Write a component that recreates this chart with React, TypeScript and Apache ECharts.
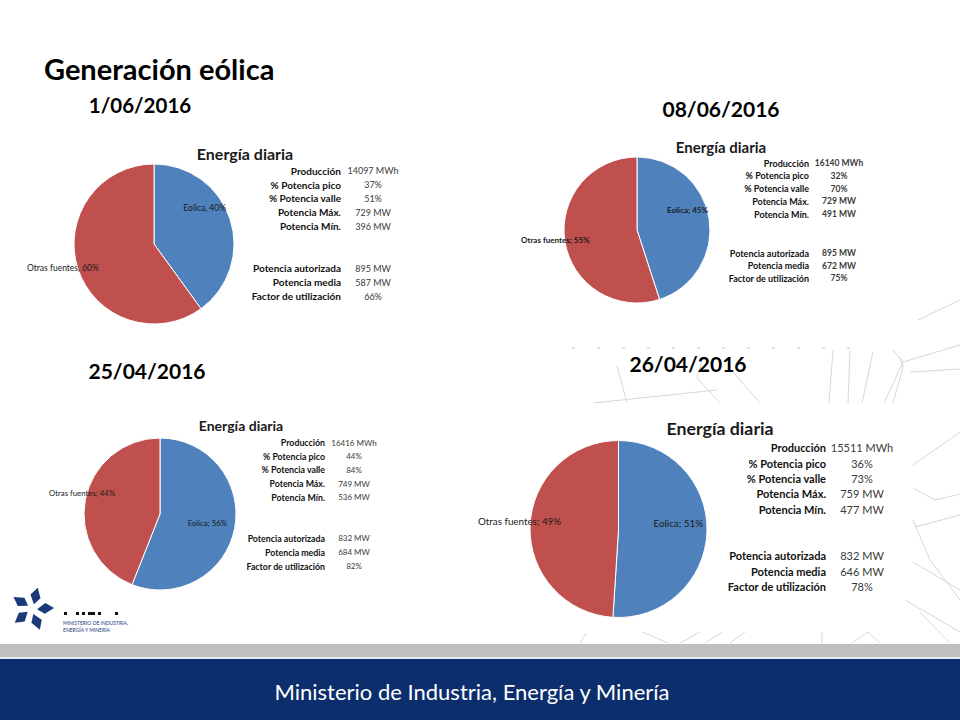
import React, { useEffect, useRef } from "react";
import * as echarts from "echarts";

// ---------- data ----------
const mainTitle = "Generación eólica";
const panelDates = ["1/06/2016", "08/06/2016", "25/04/2016", "26/04/2016"];
const sliceNames = ["Eolica", "Otras fuentes"];
const eolicaShare = [40, 45, 56, 51];
const otrasShare = [60, 55, 44, 49];
const labelSeparators = [", ", "; ", "; ", "; "];
const chartTitle = "Energía diaria";
const rowLabels = [
  "Producción",
  "% Potencia pico",
  "% Potencia valle",
  "Potencia Máx.",
  "Potencia Mín.",
  "Potencia autorizada",
  "Potencia media",
  "Factor de utilización",
];
const produccionMWh = [14097, 16140, 16416, 15511];
const potenciaPicoPct = [37, 32, 44, 36];
const potenciaVallePct = [51, 70, 84, 73];
const potenciaMaxMW = [729, 729, 749, 759];
const potenciaMinMW = [396, 491, 536, 477];
const potenciaAutorizadaMW = [895, 895, 832, 832];
const potenciaMediaMW = [587, 672, 684, 646];
const factorUtilizacionPct = [66, 75, 82, 78];
const footerText = "Ministerio de Industria, Energía y Minería";
const logoLines = ["MINISTERIO DE INDUSTRIA,", "ENERGÍA Y MINERÍA"];

// ---------- layout ----------
type Pos = { x: number; y: number; align: string };
type Layout = {
  date: [number, number, number];
  cx: number;
  cy: number;
  r: number;
  title: [number, number, number];
  labelX: number;
  valueX: number;
  row1: number;
  step1: number;
  row2: number;
  step2: number;
  labelFs: number;
  valueFs: number;
  pieFs: number;
  eol: Pos;
  otr: Pos;
  bold: boolean;
};

const layouts: Layout[] = [
  {
    date: [140, 105, 20.5], cx: 154, cy: 244, r: 80, title: [245, 153, 16],
    labelX: 341, valueX: 373, row1: 170.7, step1: 13.85, row2: 268, step2: 14,
    labelFs: 10, valueFs: 9, pieFs: 8.5,
    eol: { x: 226, y: 208, align: "right" }, otr: { x: 27, y: 268, align: "left" }, bold: false,
  },
  {
    date: [721, 108, 21], cx: 637, cy: 230, r: 73, title: [721, 147, 15],
    labelX: 809, valueX: 839, row1: 163, step1: 12.75, row2: 253, step2: 12.5,
    labelFs: 9, valueFs: 8.5, pieFs: 8,
    eol: { x: 708, y: 210, align: "right" }, otr: { x: 521, y: 240, align: "left" }, bold: true,
  },
  {
    date: [147, 370, 21], cx: 160, cy: 514, r: 76, title: [241, 425, 14],
    labelX: 325, valueX: 354, row1: 442.7, step1: 13.6, row2: 538, step2: 14,
    labelFs: 8.8, valueFs: 8, pieFs: 7.8,
    eol: { x: 227, y: 523, align: "right" }, otr: { x: 49, y: 493, align: "left" }, bold: false,
  },
  {
    date: [688, 363, 21], cx: 618.5, cy: 529, r: 88.5, title: [720, 428, 17.8],
    labelX: 826, valueX: 862, row1: 447.7, step1: 15.4, row2: 555.7, step2: 15.3,
    labelFs: 11, valueFs: 11, pieFs: 9.8,
    eol: { x: 703, y: 523, align: "right" }, otr: { x: 478, y: 521, align: "left" }, bold: false,
  },
];

const BLUE = "#4f81bd";
const RED = "#c0504d";
const NAVY = "#0c2e6c";
const FONT = "Lato, 'Open Sans', sans-serif";

// decorative background strokes
const decor: number[][][] = [
  [[593, 403], [717, 390]],
  [[617, 366], [627, 403]],
  [[703, 357], [697, 378], [720, 403]],
  [[733, 372], [760, 403]],
  [[833, 350], [829, 403]],
  [[850, 350], [848, 403]],
  [[873, 352], [862, 403]],
  [[893, 350], [903, 362], [884, 403]],
  [[903, 362], [960, 345]],
  [[910, 372], [960, 369]],
  [[918, 320], [960, 300]],
  [[900, 357], [903, 368], [893, 403]],
  [[913, 465], [960, 432]],
  [[913, 488], [935, 500], [960, 494]],
  [[915, 527], [960, 515]],
  [[913, 520], [930, 560], [960, 600]],
  [[913, 562], [960, 590]],
  [[920, 612], [950, 643]],
  [[905, 600], [960, 632]],
  [[580, 643], [586, 633]],
  [[642, 632], [668, 643]],
  [[680, 643], [700, 632]],
  [[705, 643], [722, 632]],
  [[745, 632], [730, 643]],
  [[822, 632], [822, 643]],
  [[852, 643], [868, 632], [880, 643]],
];

function buildGraphics() {
  const g: any[] = [];
  decor.forEach((pts) => {
    g.push({
      type: "polyline",
      silent: true,
      shape: { points: pts },
      style: { stroke: "#d2d2d2", lineWidth: 0.9, fill: null },
    });
  });
  g.push({
    type: "line",
    silent: true,
    shape: { x1: 572, y1: 348, x2: 850, y2: 348 },
    style: { stroke: "#c8c8c8", lineWidth: 1, lineDash: [3, 22] },
  });

  g.push({
    type: "text",
    x: 44,
    y: 68,
    style: {
      text: mainTitle,
      fill: "#000",
      font: `bold 29px ${FONT}`,
      textAlign: "left",
      textVerticalAlign: "middle",
    },
  });

  layouts.forEach((L, i) => {
    g.push({
      type: "text",
      x: L.date[0],
      y: L.date[1],
      style: {
        text: panelDates[i],
        fill: "#000",
        font: `bold ${L.date[2]}px ${FONT}`,
        textAlign: "center",
        textVerticalAlign: "middle",
      },
    });
    g.push({
      type: "text",
      x: L.title[0],
      y: L.title[1],
      style: {
        text: chartTitle,
        fill: "#1a1a1a",
        font: `bold ${L.title[2]}px ${FONT}`,
        textAlign: "center",
        textVerticalAlign: "middle",
      },
    });
    const values = [
      `${produccionMWh[i]} MWh`,
      `${potenciaPicoPct[i]}%`,
      `${potenciaVallePct[i]}%`,
      `${potenciaMaxMW[i]} MW`,
      `${potenciaMinMW[i]} MW`,
      `${potenciaAutorizadaMW[i]} MW`,
      `${potenciaMediaMW[i]} MW`,
      `${factorUtilizacionPct[i]}%`,
    ];
    rowLabels.forEach((lab, k) => {
      const y = k < 5 ? L.row1 + k * L.step1 : L.row2 + (k - 5) * L.step2;
      g.push({
        type: "text",
        x: L.labelX,
        y,
        style: {
          text: lab,
          fill: "#111",
          font: `bold ${L.labelFs}px ${FONT}`,
          textAlign: "right",
          textVerticalAlign: "middle",
        },
      });
      g.push({
        type: "text",
        x: L.valueX,
        y,
        style: {
          text: values[k],
          fill: "#3a3a3a",
          font: `${L.bold ? "bold " : ""}${L.valueFs}px ${FONT}`,
          textAlign: "center",
          textVerticalAlign: "middle",
        },
      });
    });
  });

  // logo star
  const lcx = 32;
  const lcy = 609;
  [-80, -8, 64, 136, 208].forEach((deg) => {
    const a = (deg * Math.PI) / 180;
    const ux = Math.cos(a);
    const uy = Math.sin(a);
    const px = -uy;
    const py = ux;
    const p = (d: number, w: number) => [lcx + ux * d + px * w, lcy + uy * d + py * w];
    g.push({
      type: "polygon",
      silent: true,
      shape: { points: [p(5, 1), p(12, 6.5), p(22, 2), p(14, -4)] },
      style: { fill: "#1c3a7a" },
    });
  });
  [64, 76, 82, 88, 98, 115].forEach((x, k) => {
    g.push({
      type: "rect",
      silent: true,
      shape: { x, y: 612, width: k === 3 ? 7 : 3, height: 3 },
      style: { fill: "#111" },
    });
  });
  logoLines.forEach((t, k) => {
    g.push({
      type: "text",
      x: 63,
      y: 622.5 + k * 7,
      style: {
        text: t,
        fill: "#1c3a7a",
        font: `5px ${FONT}`,
        textAlign: "left",
        textVerticalAlign: "middle",
      },
    });
  });

  // footer
  g.push({
    type: "rect",
    silent: true,
    shape: { x: 0, y: 644, width: 960, height: 13 },
    style: { fill: "#bfbfbf" },
  });
  g.push({
    type: "rect",
    silent: true,
    shape: { x: 0, y: 657, width: 960, height: 2 },
    style: { fill: "#e6ecf0" },
  });
  g.push({
    type: "rect",
    silent: true,
    shape: { x: 0, y: 659, width: 960, height: 61 },
    style: { fill: NAVY },
  });
  g.push({
    type: "text",
    x: 472,
    y: 691,
    style: {
      text: footerText,
      fill: "#ffffff",
      font: `22px ${FONT}`,
      textAlign: "center",
      textVerticalAlign: "middle",
    },
  });
  return g;
}

function buildSeries() {
  return layouts.map((L, i) => ({
    type: "pie",
    silent: true,
    center: [L.cx, L.cy],
    radius: L.r,
    startAngle: 90,
    clockwise: true,
    emphasis: { disabled: true },
    itemStyle: { borderColor: "#ffffff", borderWidth: 1 },
    label: {
      show: true,
      position: "inside",
      fontSize: L.pieFs,
      fontFamily: FONT,
      fontWeight: L.bold ? "bold" : "normal",
      color: "#1a1a1a",
      formatter: (p: any) => `${p.name}${labelSeparators[i]}${p.value}%`,
    },
    labelLine: { show: false },
    labelLayout: (params: any) => {
      const pos = params.dataIndex === 0 ? L.eol : L.otr;
      return { x: pos.x, y: pos.y, align: pos.align, verticalAlign: "middle" };
    },
    data: [
      { name: sliceNames[0], value: eolicaShare[i], itemStyle: { color: BLUE } },
      { name: sliceNames[1], value: otrasShare[i], itemStyle: { color: RED } },
    ],
  }));
}

export default function App() {
  const ref = useRef<HTMLDivElement>(null);
  useEffect(() => {
    if (!ref.current) return;
    const chart = echarts.init(ref.current, null, { renderer: "svg" });
    chart.setOption({
      animation: false,
      backgroundColor: "#ffffff",
      graphic: { elements: buildGraphics() },
      series: buildSeries(),
    });
    return () => chart.dispose();
  }, []);
  return (
    <div
      ref={ref}
      style={{ position: "absolute", left: 0, top: 0, width: 960, height: 720 }}
    />
  );
}
